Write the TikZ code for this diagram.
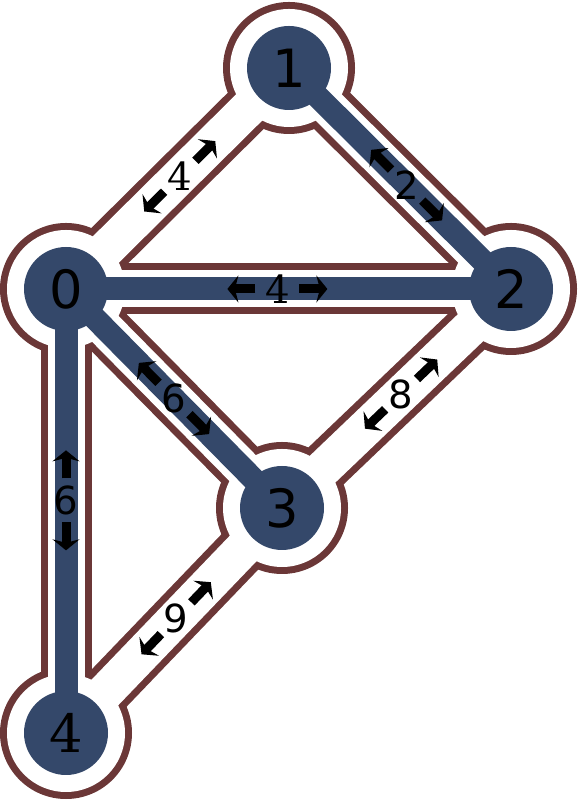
\documentclass[tikz,border=0pt]{standalone}
\usepackage{fontspec}
\setmainfont{DejaVu Sans}
\newfontfamily\serifnum{DejaVu Serif}
\usetikzlibrary{arrows.meta,calc}
\definecolor{nodeblue}{HTML}{34486A}
\definecolor{rimbrown}{HTML}{6B3737}
\tikzset{
  vertex/.style={circle, fill=nodeblue, minimum size=16.8mm, inner sep=0pt, font=\fontsize{30}{30}\selectfont},
  bandrim/.style={draw=rimbrown, line width=10.2mm},
  band/.style={draw=white, line width=7.4mm},
  treeedge/.style={draw=nodeblue, line width=4.6mm},
  weight/.style={font=\fontsize{22}{22}\selectfont, inner sep=1pt},
  wtip/.style={-{Stealth[length=2.2mm, width=5.4mm, inset=0.7mm]}, line width=1.8mm, black}
}

\begin{document}
\begin{tikzpicture}
  \useasboundingbox (0,0) rectangle (11.58,16.06);
  \coordinate (p0) at (1.32,10.28);
  \coordinate (p1) at (5.78,14.70);
  \coordinate (p2) at (10.22,10.28);
  \coordinate (p3) at (5.64,5.90);
  \coordinate (p4) at (1.32,1.40);

  % outline of bands and halos
  \foreach \a/\b in {0/1,1/2,0/2,0/3,2/3,0/4,3/4}
    \draw[bandrim] (p\a) -- (p\b);
  \foreach \i in {0,...,4}
    \fill[rimbrown] (p\i) circle (1.32);
  \foreach \a/\b in {0/1,1/2,0/2,0/3,2/3,0/4,3/4}
    \draw[band] (p\a) -- (p\b);
  \foreach \i in {0,...,4}
    \fill[white] (p\i) circle (1.18);

  % spanning tree
  \foreach \a/\b in {1/2,0/2,0/3,0/4}
    \draw[treeedge] (p\a) -- (p\b);

  \node[vertex] (v0) at (p0) {0};
  \node[vertex] (v1) at (p1) {1};
  \node[vertex] (v2) at (p2) {2};
  \node[vertex] (v3) at (p3) {3};
  \node[vertex] (v4) at (p4) {{\serifnum 4}};

  % weights
  \foreach \a/\b/\p/\w in {0/1/0.51/{\serifnum 4}, 1/2/0.53/2, 0/2/0.475/{\serifnum 4},
                           0/3/0.50/6, 2/3/0.48/8, 0/4/0.476/6, 3/4/0.49/9} {
    \path (p\a) -- node[weight, pos=\p] (w\a\b) {\w} (p\b);
    \draw[wtip] ($(w\a\b)!0.44cm!(p\a)$) -- ($(w\a\b)!1.0cm!(p\a)$);
    \draw[wtip] ($(w\a\b)!0.44cm!(p\b)$) -- ($(w\a\b)!1.0cm!(p\b)$);
  }
\end{tikzpicture}
\end{document}
